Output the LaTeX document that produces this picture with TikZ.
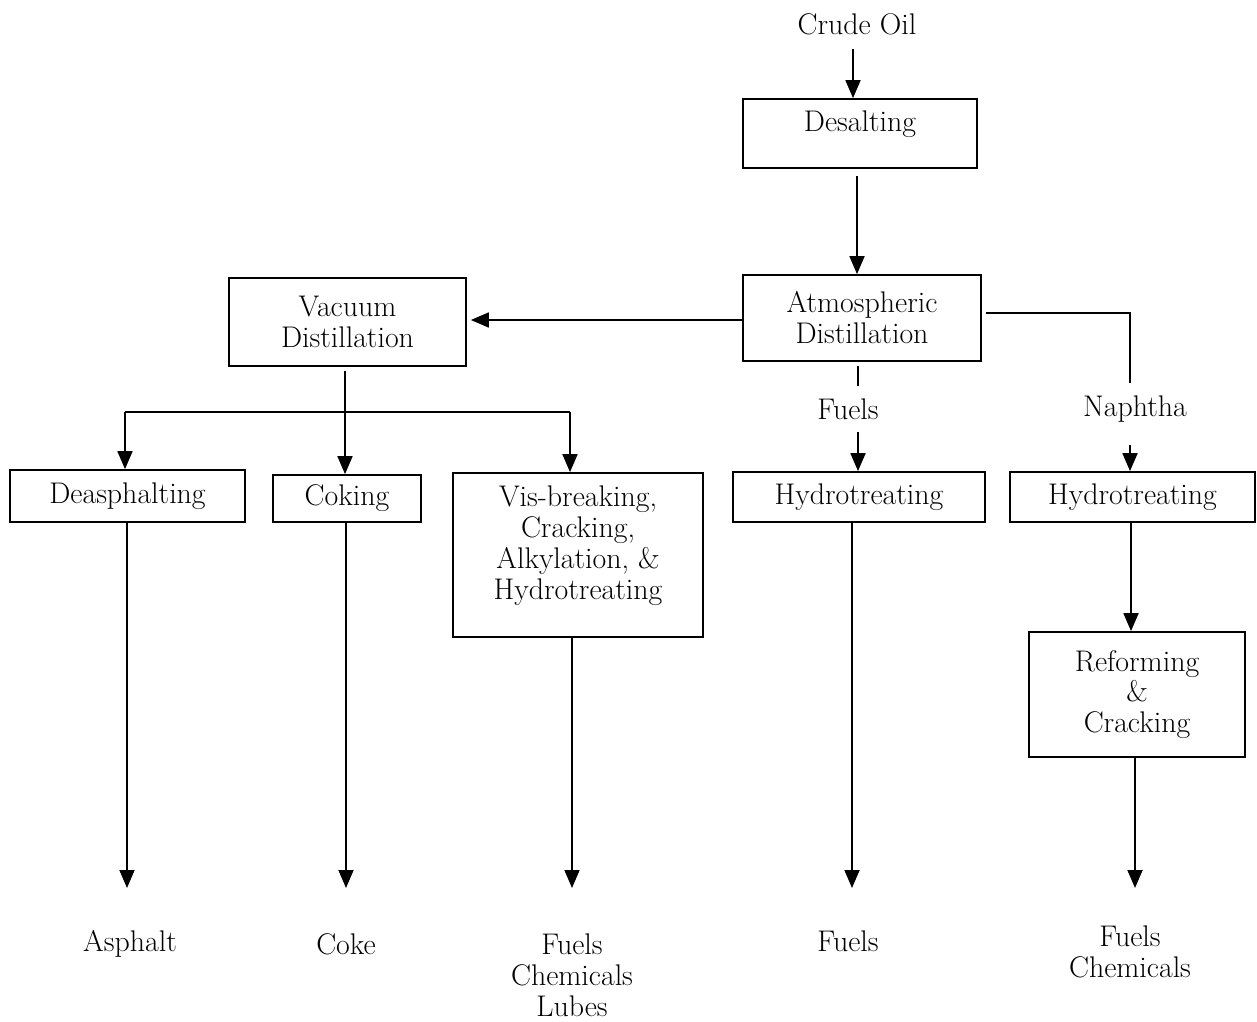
\documentclass[tikz,border=0pt]{standalone}
\usepackage{tikz}
\usetikzlibrary{arrows.meta, positioning, calc}

\begin{document}
\begin{tikzpicture}[
    x=0.02cm, y=-0.02cm,
    every node/.style = {font=\fontsize{17}{17.6}\selectfont},
    procbox/.style = {rectangle, draw, line width=1pt, align=center, inner sep=0pt},
    stream/.style = {align=center, inner sep=2pt},
    midstream/.style = {align=center, inner xsep=2pt, inner ysep=0.24cm},
    arrow/.style = {draw, line width=1pt, -{Triangle[length=0.36cm, width=0.3cm]}},
    feed/.style = {draw, line width=1pt}
]
\useasboundingbox (0,0) rectangle (1257,1021);

% Main column: crude oil to atmospheric distillation
\node (crude) [stream] at (857, 24) {Crude Oil};
\node (desalt) [procbox, minimum width=4.68cm, minimum height=1.38cm] at (860, 133.5) {\raisebox{0.18cm}[\height][\depth]{Desalting}};
\node (atmos) [procbox, minimum width=4.76cm, minimum height=1.72cm] at (862, 318) {Atmospheric\\Distillation};
\node (vacuum) [procbox, minimum width=4.74cm, minimum height=1.76cm] at (347.5, 322) {Vacuum\\Distillation};

% Row of treating units
\node (deasph) [procbox, minimum width=4.7cm, minimum height=1.04cm] at (127.5, 496) {Deasphalting};
\node (coking) [procbox, minimum width=2.96cm, minimum height=0.94cm] at (347, 498.5) {Coking};
\node (visbrk) [procbox, minimum width=5cm, minimum height=3.28cm] at (578, 555) {\raisebox{0.16cm}[\height][\depth]{\begin{tabular}{@{}c@{}}Vis-breaking,\\Cracking,\\Alkylation, \&\\Hydrotreating\end{tabular}}};
\node (hydroA) [procbox, minimum width=5.04cm, minimum height=1cm] at (859, 497) {Hydrotreating};
\node (hydroB) [procbox, minimum width=4.9cm, minimum height=1cm] at (1132.5, 497) {Hydrotreating};
\node (reform) [procbox, minimum width=4.32cm, minimum height=2.5cm] at (1137, 694.5) {Reforming\\\&\\Cracking};

% Stream labels
\node (fuelsA) [midstream] at (848, 409) {Fuels};
\node (naphtha) [midstream] at (1135, 409) {Naphtha};

% Products
\node (asphalt) [stream] at (130, 944) {Asphalt};
\node (coke) [stream] at (346, 944) {Coke};
\node (prodC) [stream] at (572, 975) {Fuels\\Chemicals\\Lubes};
\node (fuelsD) [stream] at (848, 941) {Fuels};
\node (prodE) [stream] at (1130, 952) {Fuels\\Chemicals};

\coordinate (splitL) at (125, 412);
\coordinate (splitR) at (570, 412);
\coordinate (napbend) at (1130, 313);
\coordinate (outlevel) at (0, 888);

% Main column flow
\draw [arrow] ([yshift=-0.2cm]crude.south -| 853,0) -- (853,0 |- desalt.north);
\draw [arrow, shorten <=0.14cm] (desalt.south -| 857,0) -- (857,0 |- atmos.north);
\draw [arrow, shorten >=0.08cm] (atmos.west |- 0,320) -- (vacuum.east |- 0,320);

% Fuels and naphtha side streams
\draw [feed, shorten <=0.08cm] (atmos.south -| 858,0) -- (fuelsA.north -| 858,0);
\draw [arrow] (fuelsA.south -| 858,0) -- (858,0 |- hydroA.north);
\draw [feed, shorten <=0.08cm] (atmos.east |- napbend) -- (napbend) -- (naphtha.north -| napbend);
\draw [arrow, shorten <=0.2cm] (naphtha.south -| napbend) -- (napbend |- hydroB.north);

% Vacuum residue split
\draw [arrow, shorten <=0.08cm] (vacuum.south -| 345,0) -- (345,0 |- coking.north);
\draw [feed] (splitL) -- (splitR);
\draw [arrow] (splitL) -- (splitL |- deasph.north);
\draw [arrow] (splitR) -- (splitR |- visbrk.north);

% Down to products
\draw [arrow] (deasph.south -| 127,0) -- (127,0 |- outlevel);
\draw [arrow] (coking.south -| 346,0) -- (346,0 |- outlevel);
\draw [arrow] (visbrk.south -| 572,0) -- (572,0 |- outlevel);
\draw [arrow] (hydroA.south -| 852,0) -- (852,0 |- outlevel);
\draw [arrow] (hydroB.south -| 1131,0) -- (1131,0 |- reform.north);
\draw [arrow] (reform.south -| 1135,0) -- (1135,0 |- outlevel);

\end{tikzpicture}
\end{document}
